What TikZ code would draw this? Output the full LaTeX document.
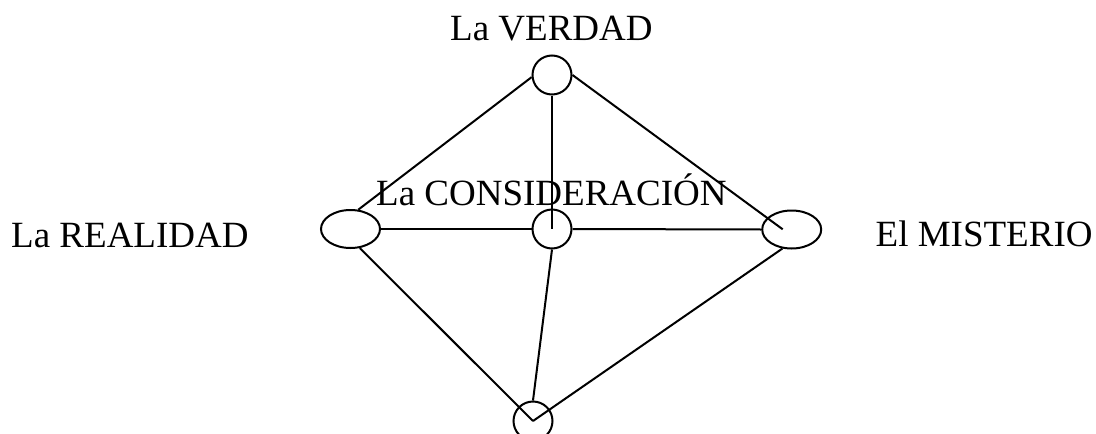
\documentclass[tikz,border=0pt]{standalone}
\usepackage{fontspec}
\setmainfont{Liberation Serif}
\usetikzlibrary{shapes.geometric}
\begin{document}
\begin{tikzpicture}[x=1pt,y=-1pt,
  lbl/.style={anchor=base west,inner sep=0pt,font=\fontsize{37}{44}\selectfont},
  rnd/.style={draw,circle,line width=2pt,inner sep=0pt,minimum size=39pt},
  ell/.style={draw,ellipse,line width=2pt,inner sep=0pt,minimum width=59pt,minimum height=38pt},
  edge/.style={line width=2pt}]
\useasboundingbox (0,0) rectangle (1096,434);
% nodes
\node[rnd] (T) at (552,75) {};
\node[rnd] (M) at (552,229) {};
\node[ell] (L) at (350.5,229) {};
\node[ell] (R) at (791.7,229.5) {};
\node[rnd] (B) at (533,421) {};
\coordinate (Rin) at (782.7,229.3);
% labels
\node[lbl] (tV) at (450,40) {La VERDAD};
\node[lbl] (tR) at (11,247.3) {La REALIDAD};
\node[lbl] (tM) at (875.5,246.7) {El MISTERIO};
\node[lbl] (tC) at (376,205) {La CONSIDERACIÓN};
% connectors
\draw[edge] (T.186) -- (L.68);
\draw[edge] (T.south) -- (M.center);
\draw[edge] (T.east) -- (Rin);
\draw[edge] (L.east) -- (M.west);
\draw[edge] (M.east) -- (R.west);
\draw[edge] (L.-64) -- (B.center);
\draw[edge] (M.south) -- (B.north);
\draw[edge] (R.244) -- (B.center);
\end{tikzpicture}
\end{document}
